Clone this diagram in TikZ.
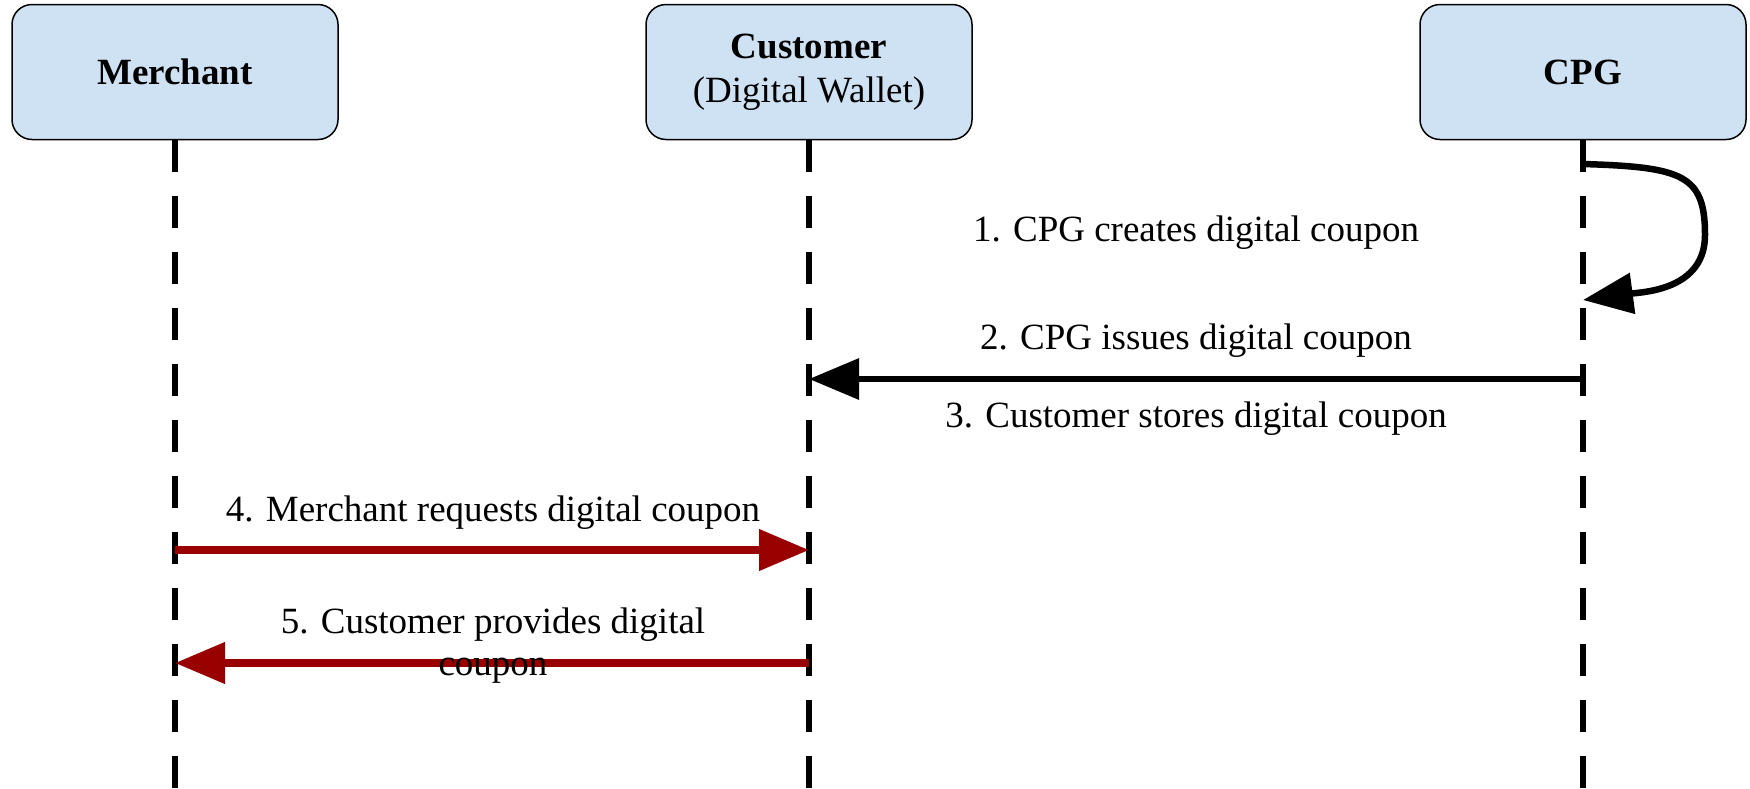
\documentclass[tikz,border=0pt]{standalone}
\usepackage{fontspec}
\setmainfont{Liberation Serif}
\usetikzlibrary{arrows.meta}
\definecolor{boxblue}{HTML}{CFE2F3}
\definecolor{darkred}{HTML}{990000}
\begin{document}
\begin{tikzpicture}[x=1pt,y=-1pt,
        actor/.style = {draw,line width=1.5pt,fill=boxblue,rounded corners=20pt,
            minimum width=326pt,minimum height=135pt,align=center,
            font=\fontsize{37}{44}\selectfont},
        lifeline/.style = {line width=5.5pt,dash pattern=on 32pt off 24pt},
        msg/.style = {line width=6.5pt,-{Triangle[length=50pt,width=40pt]}},
        msgtext/.style = {font=\fontsize{37}{42}\selectfont,anchor=base,align=center}]
    \useasboundingbox (0,0) rectangle (1750,788);

    \node[actor] (merchant) at (175,72) {\textbf{Merchant}};
    \node[actor] (customer) at (809,72) {\textbf{Customer}\\(Digital Wallet)};
    \node[actor] (cpg) at (1583,72) {\textbf{CPG}};

    \foreach \who in {merchant,customer,cpg}
        \draw[lifeline] (\who.south) -- (\who.south |- 0,788);

    \coordinate (cpg1) at (cpg.south |- 0,164);
    \coordinate (cpg2) at (cpg.south |- 0,300);
    \coordinate (cpg3) at (cpg.south |- 0,379);
    \coordinate (cust3) at (customer.south |- 0,379);
    \coordinate (merch4) at (merchant.south |- 0,550);
    \coordinate (cust4) at (customer.south |- 0,550);
    \coordinate (cust5) at (customer.south |- 0,663);
    \coordinate (merch5) at (merchant.south |- 0,663);

    \draw[msg] (cpg1) .. controls +(100,3) and +(0,-60) .. (1705,235)
        .. controls +(0,55) and +(60,-8) .. (cpg2);
    \draw[msg] (cpg3) -- (cust3);
    \draw[msg,darkred,line width=7.5pt] (merch4) -- (cust4);
    \draw[msg,darkred,line width=7.5pt] (cust5) -- (merch5);

    \node[msgtext] (m1) at (1196,241) {1. CPG creates digital coupon};
    \node[msgtext] (m2) at (1196,349) {2. CPG issues digital coupon};
    \node[msgtext] (m3) at (1196,427) {3. Customer stores digital coupon};
    \node[msgtext] (m4) at (493,521) {4. Merchant requests digital coupon};
    \node[msgtext] (m5) at (493,675) {5. Customer provides digital\\coupon};
\end{tikzpicture}
\end{document}
